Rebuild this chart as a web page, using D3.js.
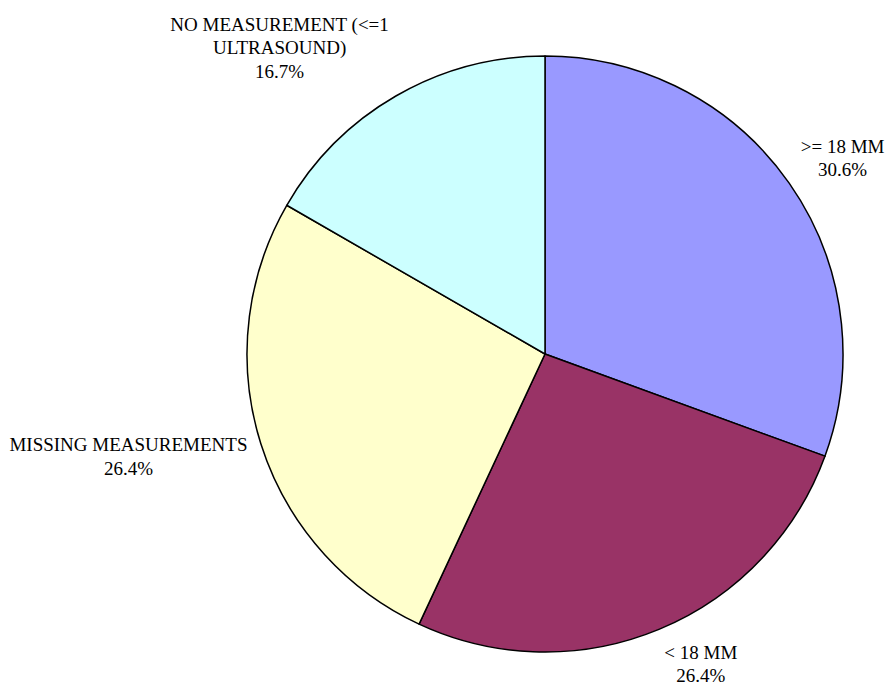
<!DOCTYPE html>
<html><head><meta charset="utf-8">
<script src="https://cdn.jsdelivr.net/npm/d3@7"></script>
<style>body{margin:0;background:#fff}svg{display:block}</style>
</head><body>
<script>
const categories = [">= 18 MM", "< 18 MM", "MISSING MEASUREMENTS", "NO MEASUREMENT (<=1 ULTRASOUND)"];
const labelLines = [[">= 18 MM"], ["< 18 MM"], ["MISSING MEASUREMENTS"], ["NO MEASUREMENT (<=1", "ULTRASOUND)"]];
const values = [30.6, 26.4, 26.4, 16.7];
const colors = ["#9999FF", "#993366", "#FFFFCC", "#CCFFFF"];

const W = 890, H = 686, cx = 545, cy = 354, R = 298;
const fontSize = 19, lineH = 23.5;
const svg = d3.select("body").append("svg").attr("width", W).attr("height", H);
const g = svg.append("g").attr("transform", `translate(${cx},${cy})`);
const pie = d3.pie().sort(null).value(d => d)(values);
const arc = d3.arc().innerRadius(0).outerRadius(R);
g.selectAll("path").data(pie).enter().append("path")
  .attr("d", arc).attr("fill", (d, i) => colors[i])
  .attr("stroke", "#000").attr("stroke-width", 1.5).attr("stroke-linejoin", "round");

const fmt = d3.format(".1f");
pie.forEach((d, i) => {
  const lines = labelLines[i].concat([fmt(values[i]) + "%"]);
  const t = svg.append("text").attr("font-family", "'Liberation Serif', 'Times New Roman', serif")
    .attr("font-size", fontSize).attr("fill", "#000").attr("text-anchor", "middle");
  lines.forEach((l, j) => t.append("tspan").attr("x", 0).attr("dy", j ? lineH : 0).text(l));
  const bb = t.node().getBBox();
  const hw = bb.width / 2, hh = lines.length * lineH / 2;
  const a = (d.startAngle + d.endAngle) / 2;
  const dx = Math.sin(a), dy = -Math.cos(a);
  const rr = R + 14;
  let x = cx + rr * dx + Math.sign(dx) * hw;
  let y = cy + (rr + 6 + hh) * dy + 2;
  x = Math.max(hw + 4, Math.min(W - hw - 2, x));
  const top0 = y - hh;
  const first = top0 + lineH * 0.68;
  const last = first + (lines.length - 1) * lineH;
  const shift = Math.min(0, 682 - last) + Math.max(0, 28 - first);
  t.selectAll("tspan").attr("x", x);
  t.attr("transform", `translate(0,${first + shift})`);
});
</script>
</body></html>
